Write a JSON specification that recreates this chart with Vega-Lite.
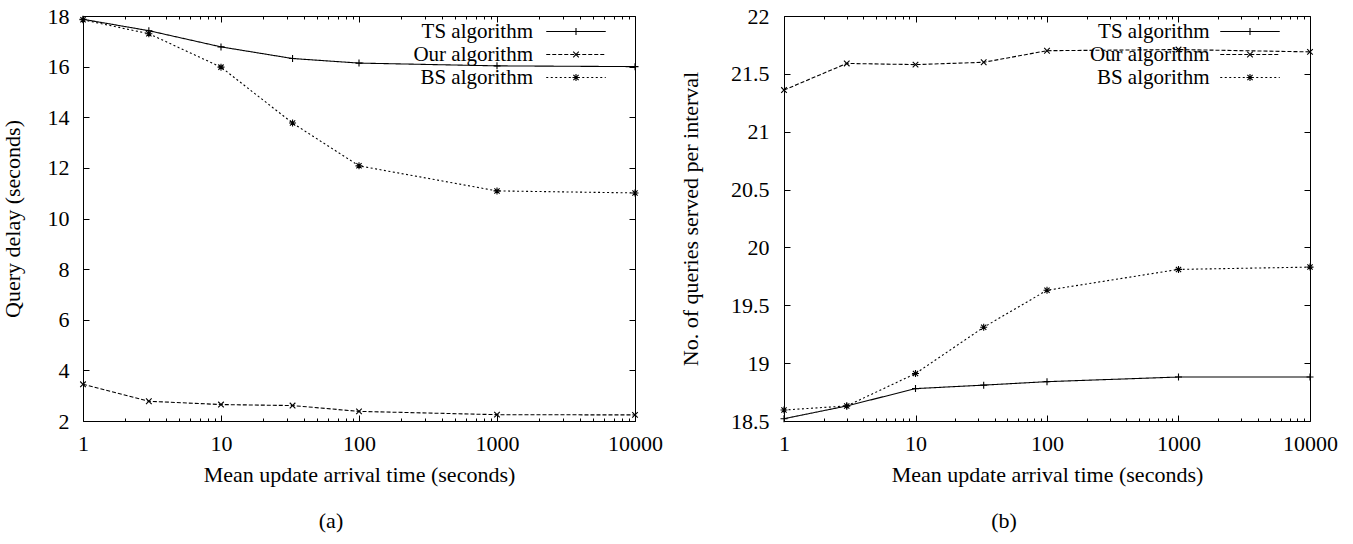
{
  "$schema": "https://vega.github.io/schema/vega-lite/v6.json",
  "padding": {"left": 0, "top": 4, "right": 5, "bottom": 5},
  "background": "white",
  "spacing": 16,
  "datasets": {
    "left": [
      {"t": 1, "v": 17.87, "s": "TS algorithm"},
      {"t": 3, "v": 17.42, "s": "TS algorithm"},
      {"t": 10, "v": 16.78, "s": "TS algorithm"},
      {"t": 33, "v": 16.32, "s": "TS algorithm"},
      {"t": 100, "v": 16.14, "s": "TS algorithm"},
      {"t": 1000, "v": 16.03, "s": "TS algorithm"},
      {"t": 10000, "v": 16.0, "s": "TS algorithm"},
      {"t": 1, "v": 3.45, "s": "Our algorithm"},
      {"t": 3, "v": 2.78, "s": "Our algorithm"},
      {"t": 10, "v": 2.65, "s": "Our algorithm"},
      {"t": 33, "v": 2.61, "s": "Our algorithm"},
      {"t": 100, "v": 2.38, "s": "Our algorithm"},
      {"t": 1000, "v": 2.25, "s": "Our algorithm"},
      {"t": 10000, "v": 2.24, "s": "Our algorithm"},
      {"t": 1, "v": 17.85, "s": "BS algorithm"},
      {"t": 3, "v": 17.3, "s": "BS algorithm"},
      {"t": 10, "v": 15.98, "s": "BS algorithm"},
      {"t": 33, "v": 13.77, "s": "BS algorithm"},
      {"t": 100, "v": 12.08, "s": "BS algorithm"},
      {"t": 1000, "v": 11.09, "s": "BS algorithm"},
      {"t": 10000, "v": 11.01, "s": "BS algorithm"}
    ],
    "right": [
      {"t": 1, "v": 18.52, "s": "TS algorithm"},
      {"t": 3, "v": 18.63, "s": "TS algorithm"},
      {"t": 10, "v": 18.78, "s": "TS algorithm"},
      {"t": 33, "v": 18.81, "s": "TS algorithm"},
      {"t": 100, "v": 18.84, "s": "TS algorithm"},
      {"t": 1000, "v": 18.88, "s": "TS algorithm"},
      {"t": 10000, "v": 18.88, "s": "TS algorithm"},
      {"t": 1, "v": 21.36, "s": "Our algorithm"},
      {"t": 3, "v": 21.59, "s": "Our algorithm"},
      {"t": 10, "v": 21.58, "s": "Our algorithm"},
      {"t": 33, "v": 21.6, "s": "Our algorithm"},
      {"t": 100, "v": 21.7, "s": "Our algorithm"},
      {"t": 1000, "v": 21.71, "s": "Our algorithm"},
      {"t": 10000, "v": 21.69, "s": "Our algorithm"},
      {"t": 1, "v": 18.595, "s": "BS algorithm"},
      {"t": 3, "v": 18.63, "s": "BS algorithm"},
      {"t": 10, "v": 18.91, "s": "BS algorithm"},
      {"t": 33, "v": 19.31, "s": "BS algorithm"},
      {"t": 100, "v": 19.63, "s": "BS algorithm"},
      {"t": 1000, "v": 19.81, "s": "BS algorithm"},
      {"t": 10000, "v": 19.83, "s": "BS algorithm"}
    ]
  },
  "hconcat": [
    {
      "width": 552,
      "height": 405,
      "data": {"name": "left"},
      "title": {"text": "(a)", "orient": "bottom", "offset": 26, "dx": -28},
      "layer": [
        {
          "mark": {"type": "line", "color": "black", "strokeWidth": 1.1},
          "encoding": {
            "x": {"field": "t", "type": "quantitative",
              "scale": {"type": "log", "domain": [1, 10000], "nice": false},
              "axis": {"orient": "bottom", "title": "Mean update arrival time (seconds)",
                "values": [1,2,3,4,5,6,7,8,9,10,20,30,40,50,60,70,80,90,100,200,300,400,500,600,700,800,900,1000,2000,3000,4000,5000,6000,7000,8000,9000,10000],
                "format": "d",
                "labelExpr": "indexof([1,10,100,1000,10000], datum.value) >= 0 ? datum.label : ''",
                "tickSize": {"condition": {"test": "indexof([1,10,100,1000,10000], datum.value) >= 0", "value": -6}, "value": -3},
                "labelPadding": 18, "titlePadding": 7}},
            "y": {"field": "v", "type": "quantitative",
              "scale": {"domain": [2, 18], "nice": false, "zero": false},
              "axis": {"orient": "left", "title": "Query delay (seconds)", "values": [2,4,6,8,10,12,14,16,18],
                "tickSize": -6, "labelPadding": 20, "titlePadding": 23}},
            "strokeDash": {"field": "s", "type": "nominal",
              "sort": ["TS algorithm", "Our algorithm", "BS algorithm"],
              "scale": {"range": [[1, 0], [4, 2], [2, 2.5]]},
              "legend": {"orient": "none", "legendX": 482.5, "legendY": 5, "title": null,
                "symbolType": "M-8.5,0L8.5,0", "symbolSize": 49, "symbolStrokeColor": "black", "symbolStrokeWidth": 1.1,
                "labelAlign": "right", "labelOffset": -53.5, "labelFontSize": 21, "padding": 0, "rowPadding": 1, "labelLimit": 300}}
          }
        },
        {
          "mark": {"type": "point", "filled": false, "color": "black", "strokeWidth": 1.1, "size": 49, "opacity": 1},
          "encoding": {
            "x": {"field": "t", "type": "quantitative",
              "axis": {"orient": "top", "title": null, "labels": false,
                "values": [1,2,3,4,5,6,7,8,9,10,20,30,40,50,60,70,80,90,100,200,300,400,500,600,700,800,900,1000,2000,3000,4000,5000,6000,7000,8000,9000,10000],
                "tickSize": {"condition": {"test": "indexof([1,10,100,1000,10000], datum.value) >= 0", "value": -6}, "value": -3}}},
            "y": {"field": "v", "type": "quantitative",
              "axis": {"orient": "right", "title": null, "labels": false, "values": [2,4,6,8,10,12,14,16,18], "tickSize": -6}},
            "shape": {"field": "s", "type": "nominal",
              "scale": {"domain": ["TS algorithm", "Our algorithm", "BS algorithm"],
                "range": ["M-1,0L1,0M0,-1L0,1", "M-0.8,-0.8L0.8,0.8M-0.8,0.8L0.8,-0.8", "M-1,0L1,0M0,-1L0,1M-0.75,-0.75L0.75,0.75M-0.75,0.75L0.75,-0.75"]},
              "legend": {"orient": "none", "legendX": 482.5, "legendY": 5, "title": null,
                "symbolSize": 49, "symbolStrokeColor": "black", "symbolStrokeWidth": 1.1,
                "labelExpr": "''", "labelFontSize": 21, "padding": 0, "rowPadding": 1}}
          }
        }
      ],
      "resolve": {"axis": {"x": "independent", "y": "independent"}}
    },
    {
      "width": 526,
      "height": 405,
      "data": {"name": "right"},
      "title": {"text": "(b)", "orient": "bottom", "offset": 26, "dx": -43},
      "layer": [
        {
          "mark": {"type": "line", "color": "black", "strokeWidth": 1.1},
          "encoding": {
            "x": {"field": "t", "type": "quantitative",
              "scale": {"type": "log", "domain": [1, 10000], "nice": false},
              "axis": {"orient": "bottom", "title": "Mean update arrival time (seconds)",
                "values": [1,2,3,4,5,6,7,8,9,10,20,30,40,50,60,70,80,90,100,200,300,400,500,600,700,800,900,1000,2000,3000,4000,5000,6000,7000,8000,9000,10000],
                "format": "d",
                "labelExpr": "indexof([1,10,100,1000,10000], datum.value) >= 0 ? datum.label : ''",
                "tickSize": {"condition": {"test": "indexof([1,10,100,1000,10000], datum.value) >= 0", "value": -6}, "value": -3},
                "labelPadding": 18, "titlePadding": 7}},
            "y": {"field": "v", "type": "quantitative",
              "scale": {"domain": [18.5, 22], "nice": false, "zero": false},
              "axis": {"orient": "left", "title": "No. of queries served per interval", "values": [18.5,19,19.5,20,20.5,21,21.5,22],
                "format": "~f", "tickSize": -6, "labelPadding": 21, "titlePadding": 28}},
            "strokeDash": {"field": "s", "type": "nominal",
              "sort": ["TS algorithm", "Our algorithm", "BS algorithm"],
              "scale": {"range": [[1, 0], [4, 2], [2, 2.5]]},
              "legend": {"orient": "none", "legendX": 455.5, "legendY": 5, "title": null,
                "symbolType": "M-8.5,0L8.5,0", "symbolSize": 49, "symbolStrokeColor": "black", "symbolStrokeWidth": 1.1,
                "labelAlign": "right", "labelOffset": -51, "labelFontSize": 21, "padding": 0, "rowPadding": 1, "labelLimit": 300}}
          }
        },
        {
          "mark": {"type": "point", "filled": false, "color": "black", "strokeWidth": 1.1, "size": 49, "opacity": 1},
          "encoding": {
            "x": {"field": "t", "type": "quantitative",
              "axis": {"orient": "top", "title": null, "labels": false,
                "values": [1,2,3,4,5,6,7,8,9,10,20,30,40,50,60,70,80,90,100,200,300,400,500,600,700,800,900,1000,2000,3000,4000,5000,6000,7000,8000,9000,10000],
                "tickSize": {"condition": {"test": "indexof([1,10,100,1000,10000], datum.value) >= 0", "value": -6}, "value": -3}}},
            "y": {"field": "v", "type": "quantitative",
              "axis": {"orient": "right", "title": null, "labels": false, "values": [18.5,19,19.5,20,20.5,21,21.5,22], "tickSize": -6}},
            "shape": {"field": "s", "type": "nominal",
              "scale": {"domain": ["TS algorithm", "Our algorithm", "BS algorithm"],
                "range": ["M-1,0L1,0M0,-1L0,1", "M-0.8,-0.8L0.8,0.8M-0.8,0.8L0.8,-0.8", "M-1,0L1,0M0,-1L0,1M-0.75,-0.75L0.75,0.75M-0.75,0.75L0.75,-0.75"]},
              "legend": {"orient": "none", "legendX": 455.5, "legendY": 5, "title": null,
                "symbolSize": 49, "symbolStrokeColor": "black", "symbolStrokeWidth": 1.1,
                "labelExpr": "''", "labelFontSize": 21, "padding": 0, "rowPadding": 1}}
          }
        }
      ],
      "resolve": {"axis": {"x": "independent", "y": "independent"}}
    }
  ],
  "resolve": {"scale": {"shape": "independent", "strokeDash": "independent"}, "legend": {"shape": "independent", "strokeDash": "independent"}},
  "config": {
    "font": "Liberation Serif",
    "view": {"stroke": "black", "strokeWidth": 1},
    "axis": {"grid": false, "domain": false, "tickColor": "black", "tickWidth": 1,
      "labelFont": "Liberation Serif", "labelFontSize": 22, "labelColor": "black",
      "titleFont": "Liberation Serif", "titleFontSize": 22, "titleFontWeight": "normal", "titleColor": "black",
      "labelOverlap": false, "labelFlush": false},
    "legend": {"labelFont": "Liberation Serif", "labelFontSize": 21, "labelColor": "black"},
    "title": {"font": "Liberation Serif", "fontSize": 22, "fontWeight": "normal", "color": "black"}
  }
}
